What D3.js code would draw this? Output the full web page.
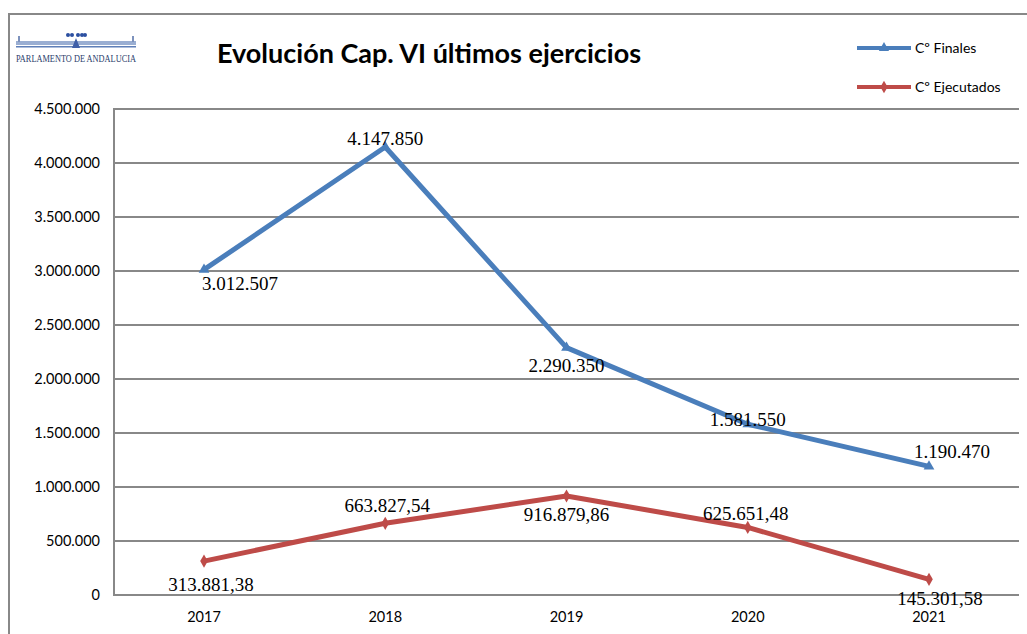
<!DOCTYPE html>
<html>
<head>
<meta charset="utf-8">
<script src="https://cdn.jsdelivr.net/npm/d3@7"></script>
<style>
  body { margin: 0; background: #fff; }
  svg { display: block; }
</style>
</head>
<body>
<svg id="chart" width="1027" height="634"></svg>
<script>
const years = ["2017", "2018", "2019", "2020", "2021"];
const finales = [3012507, 4147850, 2290350, 1581550, 1190470];
const ejecutados = [313881.38, 663827.54, 916879.86, 625651.48, 145301.58];
const finalesLabels = ["3.012.507", "4.147.850", "2.290.350", "1.581.550", "1.190.470"];
const ejecutadosLabels = ["313.881,38", "663.827,54", "916.879,86", "625.651,48", "145.301,58"];
const yTicks = [0, 500000, 1000000, 1500000, 2000000, 2500000, 3000000, 3500000, 4000000, 4500000];

// label nudges (layout only)
const finalesNudge = [[36, 20], [0, -2], [0, 24], [0, 2], [23, -8]];
const ejecutadosNudge = [[7, 30], [2, -11], [0, 25], [-2, -7], [11, 26]];

const svg = d3.select("#chart");
const blue = "#4a7ebb", red = "#be4b48", grid = "#888";

// outer frame
svg.append("path")
  .attr("d", "M9,634 V14 H1027")
  .attr("fill", "none")
  .attr("stroke", grid)
  .attr("stroke-width", 2);

const x = d3.scalePoint().domain(years).range([204, 929]);
const y = d3.scaleLinear().domain([0, 4500000]).range([595, 109]);
const fmt = d3.formatLocale({ decimal: ",", thousands: ".", grouping: [3], currency: ["", ""] }).format(",d");

// gridlines
svg.append("g")
  .selectAll("line")
  .data(yTicks)
  .join("line")
  .attr("x1", 114).attr("x2", 1019)
  .attr("y1", d => y(d)).attr("y2", d => y(d))
  .attr("stroke", grid).attr("stroke-width", 2);

svg.append("line")
  .attr("x1", 114).attr("x2", 114)
  .attr("y1", y(4500000) - 1).attr("y2", y(0) + 1)
  .attr("stroke", grid).attr("stroke-width", 2);

// y axis labels
svg.append("g")
  .selectAll("text")
  .data(yTicks)
  .join("text")
  .attr("x", 100)
  .attr("y", d => y(d) + 5)
  .attr("text-anchor", "end")
  .attr("font-family", "Lato, 'Open Sans', sans-serif")
  .attr("font-size", 14.5)
  .text(d => fmt(d));

// x axis labels
svg.append("g")
  .selectAll("text")
  .data(years)
  .join("text")
  .attr("x", d => x(d))
  .attr("y", 622)
  .attr("text-anchor", "middle")
  .attr("font-family", "Lato, 'Open Sans', sans-serif")
  .attr("font-size", 14.5)
  .text(d => d);

const line = d3.line()
  .x(d => x(d.year))
  .y(d => y(d.value));

function drawSeries(values, labels, nudge, colour, marker) {
  const pts = values.map((v, i) => ({ year: years[i], value: v, label: labels[i], n: nudge[i] }));
  svg.append("path")
    .datum(pts)
    .attr("d", line)
    .attr("fill", "none")
    .attr("stroke", colour)
    .attr("stroke-width", 5)
    .attr("stroke-linejoin", "round");
  svg.append("g")
    .selectAll("path")
    .data(pts)
    .join("path")
    .attr("transform", d => `translate(${x(d.year)},${y(d.value)})`)
    .attr("d", d3.symbol().type(marker).size(50))
    .attr("fill", colour);
  svg.append("g")
    .selectAll("text")
    .data(pts)
    .join("text")
    .attr("x", d => x(d.year) + d.n[0])
    .attr("y", d => y(d.value) + d.n[1])
    .attr("text-anchor", "middle")
    .attr("font-family", "'Liberation Serif', 'Times New Roman', serif")
    .attr("font-size", 19)
    .text(d => d.label);
}

drawSeries(finales, finalesLabels, finalesNudge, blue, d3.symbolTriangle);
drawSeries(ejecutados, ejecutadosLabels, ejecutadosNudge, red, d3.symbolDiamond);

// title
svg.append("text")
  .attr("x", 429)
  .attr("y", 63)
  .attr("text-anchor", "middle")
  .attr("font-family", "Lato, 'Open Sans', sans-serif")
  .attr("font-weight", "bold")
  .attr("font-size", 27)
  .text("Evolución Cap. VI últimos ejercicios");

// legend
const legend = [
  { name: "Cº Finales", colour: blue, marker: d3.symbolTriangle, yy: 48 },
  { name: "Cº Ejecutados", colour: red, marker: d3.symbolDiamond, yy: 87 }
];
const lg = svg.append("g").selectAll("g").data(legend).join("g")
  .attr("transform", d => `translate(857,${d.yy})`);
lg.append("line")
  .attr("x1", 0).attr("x2", 54)
  .attr("stroke", d => d.colour).attr("stroke-width", 4);
lg.append("path")
  .attr("transform", "translate(27,0)")
  .attr("d", d => d3.symbol().type(d.marker).size(45)())
  .attr("fill", d => d.colour);
lg.append("text")
  .attr("x", 58).attr("y", 5)
  .attr("font-family", "Lato, 'Open Sans', sans-serif")
  .attr("font-size", 14)
  .text(d => d.name);

// logo
const logo = svg.append("g").attr("transform", "translate(16,34)");
logo.append("rect").attr("x", 0).attr("y", 7).attr("width", 120).attr("height", 4).attr("fill", "#9aaed2");
logo.append("rect").attr("x", 0).attr("y", 12).attr("width", 120).attr("height", 1.5).attr("fill", "#5f7fb8");
logo.append("rect").attr("x", 2).attr("y", 2).attr("width", 2).attr("height", 6).attr("fill", "#7d92bd");
logo.append("rect").attr("x", 116).attr("y", 2).attr("width", 2).attr("height", 6).attr("fill", "#7d92bd");
logo.append("path").attr("d", "M56,14 L60,4 L64,14 Z").attr("fill", "#3f5fa8");
logo.selectAll("circle.d").data([52, 56, 62, 66, 69]).join("circle")
  .attr("cx", d => d).attr("cy", 1).attr("r", 2).attr("fill", "#2b4fa0");
logo.append("text")
  .attr("x", 60).attr("y", 28)
  .attr("text-anchor", "middle")
  .attr("font-family", "'Liberation Serif', serif")
  .attr("font-size", 11)
  .attr("fill", "#2e3f6e")
  .attr("textLength", 120)
  .attr("lengthAdjust", "spacingAndGlyphs")
  .text("PARLAMENTO DE ANDALUCIA");
</script>
</body>
</html>
